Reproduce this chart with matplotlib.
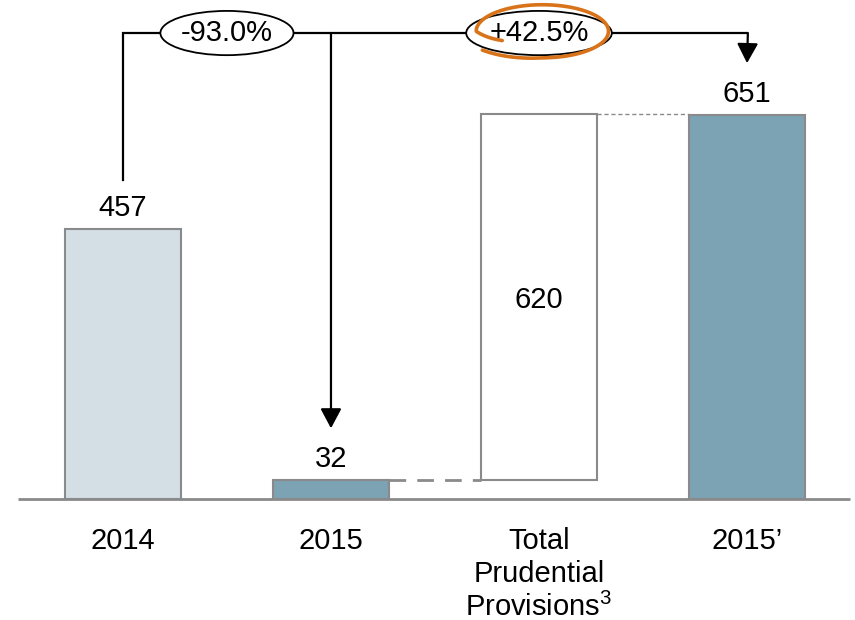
import numpy as np
import matplotlib
matplotlib.use("Agg")
import matplotlib.pyplot as plt
from matplotlib.patches import Ellipse

plt.rcParams['font.family'] = ['Liberation Sans', 'DejaVu Sans']
plt.rcParams['mathtext.fontset'] = 'custom'
plt.rcParams['mathtext.rm'] = 'Liberation Sans'
plt.rcParams['mathtext.default'] = 'rm'

categories = ['2014', '2015', 'Total\nPrudential\nProvisions$^3$', '2015’']
values = [457, 32, 620, 651]
bottoms = [0, 0, 32, 0]
labels = ['457', '32', '620', '651']
colors = ['#d3dfe5', '#7ba3b4', '#ffffff', '#7ba3b4']
changes = ['-93.0%', '+42.5%']

fig = plt.figure(figsize=(8.55, 6.2), dpi=100)
ax = fig.add_axes([0, 0.195, 1, 0.805])
ax.set_xlim(-0.591, 3.519)
ax.set_ylim(0, 846)
ax.axis('off')

x = np.arange(len(categories))
w = 0.558
edge = '#8a8a8a'
ax.bar(x, values, width=w, bottom=bottoms, color=colors, edgecolor=edge,
       linewidth=1.5, zorder=3)
ax.plot([-0.505, 3.495], [0, 0], color=edge, lw=2, zorder=4,
        solid_capstyle='butt', clip_on=False)

fs = 21
tops = [b + v for b, v in zip(bottoms, values)]
# value labels: above the bars, inside the floating one
for i, (lab, t) in enumerate(zip(labels, tops)):
    if i == 2:
        ax.text(x[i], bottoms[i] + values[i] / 2 - 5, lab, ha='center',
                va='center', fontsize=fs, zorder=5)
    else:
        ax.text(x[i], t + 36, lab, ha='center', va='center', fontsize=fs,
                zorder=5)

# category labels under the baseline
for i, c in enumerate(categories):
    ax.text(x[i], -48, c, ha='center', va='top', fontsize=fs,
            linespacing=1.2, clip_on=False)

# connectors between bars
ax.plot([x[1] + w / 2, x[2] - w / 2], [tops[1], tops[1]], color=edge, lw=2,
        dashes=(6, 4), zorder=2)
ax.plot([x[2] + w / 2, x[3] - w / 2], [tops[2], tops[2]], color=edge, lw=1,
        dashes=(3, 2), zorder=2)

# bracket with arrows
yb = 790
lw = 1.6
ax.plot([x[0], x[0], x[3]], [values[0] + 84, yb, yb], color='black', lw=lw,
        zorder=4, solid_joinstyle='miter')
arrow = dict(arrowstyle='-|>,head_width=0.32,head_length=0.6', lw=lw,
             color='black', shrinkA=0, shrinkB=0, mutation_scale=20)
ax.annotate('', xy=(x[1], values[1] + 88), xytext=(x[1], yb),
            arrowprops=arrow, zorder=4)
ax.annotate('', xy=(x[3], values[3] + 88), xytext=(x[3] + 0.004, yb),
            arrowprops=arrow, zorder=4)

# percentage change bubbles
for cx, txt, ew in [(0.5, changes[0], 0.64), (2.0, changes[1], 0.70)]:
    ax.add_patch(Ellipse((cx, yb), ew, 75, facecolor='white',
                         edgecolor='black', lw=1.3, zorder=5))
    ax.text(cx, yb, txt, ha='center', va='center', fontsize=fs, zorder=6)

# hand-drawn orange loop around the second bubble
ang = np.linspace(210, -142, 300)
r = np.interp(ang, [-142, -90, 180, 210], [1.15, 1.0, 1.0, 0.7])
t = np.radians(ang)
ax.plot(2.016 + 0.318 * r * np.cos(t), 793 + 45 * r * np.sin(t),
        color='#d8731a', lw=2.6, zorder=7, solid_capstyle='round')

fig.savefig('out.png', dpi=100)
